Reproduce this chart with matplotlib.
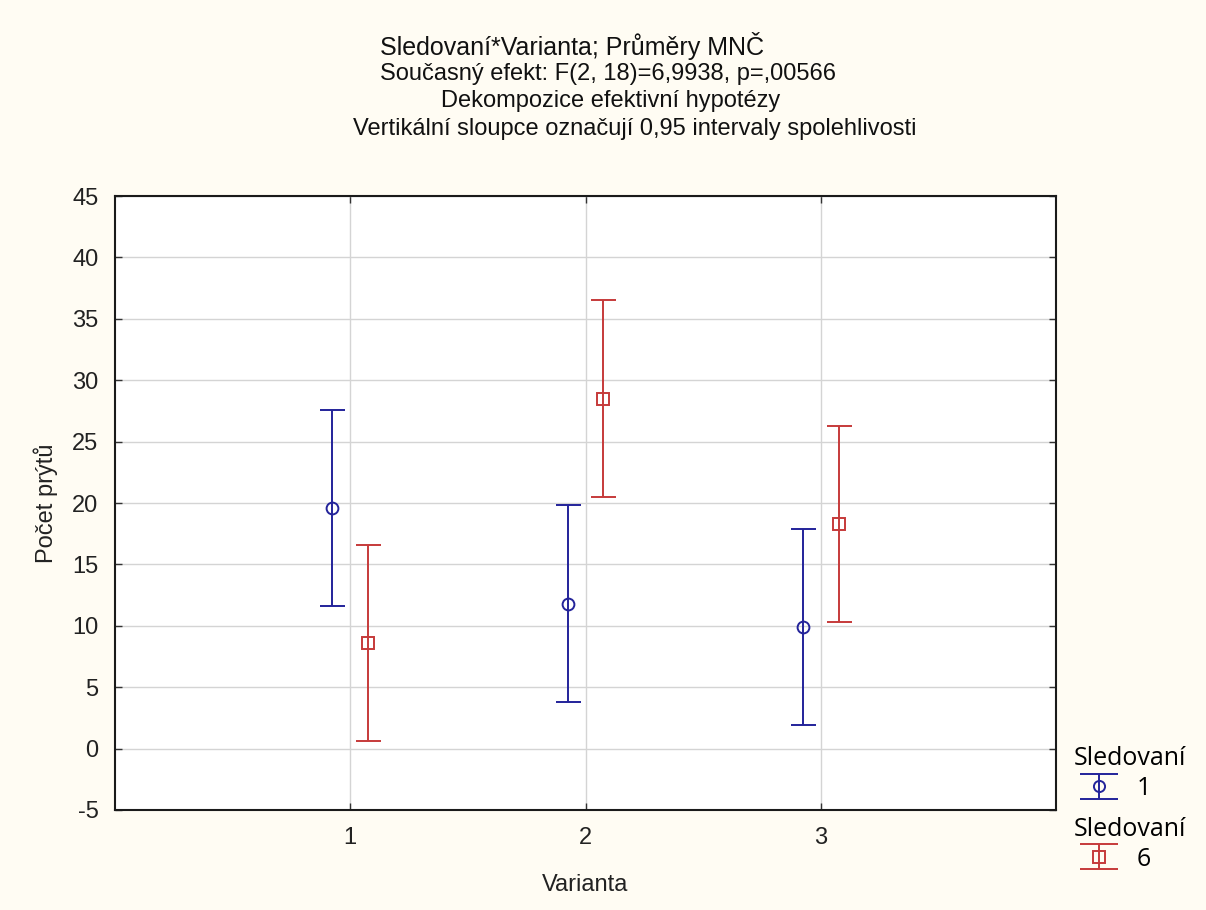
import numpy as np
import matplotlib
matplotlib.use("Agg")
import matplotlib.pyplot as plt

# data (means and 0.95 CI half-widths)
varianta = [1, 2, 3]
mean_s1 = [19.6, 11.8, 9.9]
ci_s1 = [8.0, 8.0, 8.0]
mean_s6 = [8.6, 28.5, 18.3]
ci_s6 = [8.0, 8.0, 8.0]
yticks = [-5, 0, 5, 10, 15, 20, 25, 30, 35, 40, 45]

title_lines = [
    "Sledovaní*Varianta; Průměry MNČ",
    "Současný efekt: F(2, 18)=6,9938, p=,00566",
    "Dekompozice efektivní hypotézy",
    "Vertikální sloupce označují 0,95 intervaly spolehlivosti",
]

BLUE = "#23239a"
RED = "#c63a3a"
BG = "#fffcf3"

plt.rcParams["font.family"] = ["Liberation Sans", "DejaVu Sans"]
plt.rcParams["axes.unicode_minus"] = False

fig = plt.figure(figsize=(12.06, 9.10), dpi=100, facecolor=BG)
ax = fig.add_axes([0.0954, 0.1099, 0.7802, 0.6747])
ax.set_facecolor("white")

x = np.array(varianta, dtype=float)
off = 0.076
style = dict(mfc="none", ms=8.5, mew=1.4, elinewidth=1.4, capsize=9, capthick=1.4, zorder=3)
ax.errorbar(x - off, mean_s1, yerr=ci_s1, fmt="o", color=BLUE, mec=BLUE, **style)
ax.errorbar(x + off, mean_s6, yerr=ci_s6, fmt="s", color=RED, mec=RED, **style)

ax.set_xlim(0, 4)
ax.set_ylim(-5, 45)
ax.set_xticks(varianta)
ax.set_yticks(yticks)
ax.grid(True, color="#d4d4d4", linewidth=1)
ax.set_axisbelow(True)
ax.tick_params(direction="in", top=True, right=True, length=5, width=1,
               labelsize=17, pad=12, color="#333333", labelcolor="#222222")
for s in ax.spines.values():
    s.set_linewidth(1.5)
    s.set_color("#1a1a1a")

ax.set_xlabel("Varianta", fontsize=17, labelpad=18, color="#222222")
ax.set_ylabel("Počet prýtů", fontsize=17, labelpad=10, color="#222222")

# stacked header lines, as in the Statistica output
ys = [0.950, 0.919, 0.889, 0.858]
xs = [0.474, 0.504, 0.506, 0.526]
for i, (t, tx, ty) in enumerate(zip(title_lines, xs, ys)):
    fig.text(tx, ty, t, ha="center", va="center", fontsize=18 if i == 0 else 17,
             color="#111111")

# legend proxies with wider caps (no data drawn)
leg_style = dict(mfc="none", ms=8, mew=1.4, elinewidth=1.4, capsize=14, capthick=1.4)
h1 = ax.errorbar([np.nan], [np.nan], yerr=[1], fmt="o", color=BLUE, mec=BLUE, **leg_style)
h6 = ax.errorbar([np.nan], [np.nan], yerr=[1], fmt="s", color=RED, mec=RED, **leg_style)

leg_font = ["Open Sans", "DejaVu Sans"]
common = dict(title="Sledovaní", loc="upper left", frameon=False, handlelength=2.0,
              prop={"family": leg_font, "size": 18},
              title_fontproperties={"family": leg_font, "size": 18},
              borderaxespad=0, handletextpad=0.5, borderpad=0.0, labelspacing=0.2)
leg1 = ax.legend([h1], ["1"], bbox_to_anchor=(1.019, 0.104), **common)
leg1._legend_box.align = "left"
ax.add_artist(leg1)
leg2 = ax.legend([h6], ["6"], bbox_to_anchor=(1.019, -0.011), **common)
leg2._legend_box.align = "left"

fig.savefig("out.png", dpi=100, facecolor=BG)
